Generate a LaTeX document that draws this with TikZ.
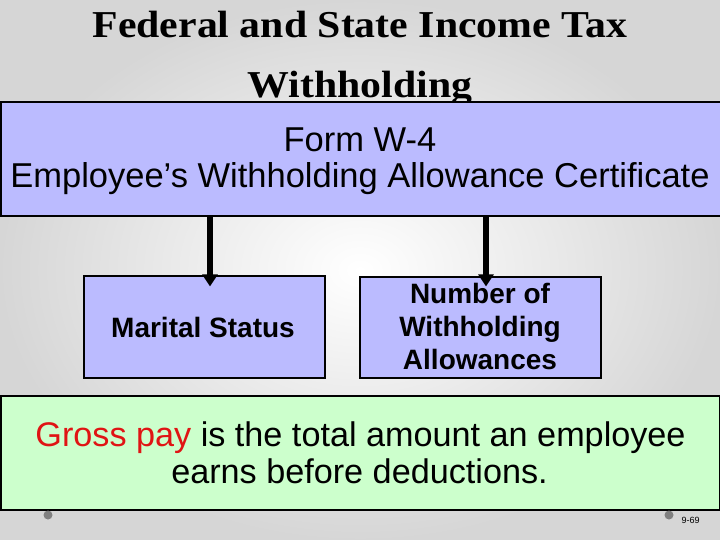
\documentclass[tikz,border=0pt]{standalone}
\usepackage{fontspec}
\setmainfont{Liberation Sans}
\newfontfamily\titlefont[FakeStretch=1.1]{Liberation Serif}
\usetikzlibrary{arrows.meta}
\definecolor{boxblue}{RGB}{187,187,255}
\definecolor{boxgreen}{RGB}{204,255,204}
\definecolor{payred}{RGB}{224,20,20}
\definecolor{dotgray}{RGB}{128,128,128}
\begin{document}
\begin{tikzpicture}[x=1pt,y=-1pt,
  bluebox/.style={draw=black,line width=1.2pt,fill=boxblue,inner sep=0pt},
  greenbox/.style={draw=black,line width=1.2pt,fill=boxgreen,inner sep=0pt},
  txt/.style={inner sep=0pt,anchor=base},
  bigtxt/.style={txt,font=\fontsize{34.5}{40}\selectfont},
  smalltxt/.style={txt,font=\bfseries\fontsize{28}{33}\selectfont},
  titletxt/.style={txt,font=\titlefont\bfseries\fontsize{38}{44}\selectfont},
  arr/.style={line width=6pt,-{Triangle[width=15pt,length=12pt]}},
  dotmark/.style={circle,fill=dotgray,inner sep=0pt,minimum size=9pt}]
\shade[inner color=white,outer color=black!16] (0,0) rectangle (720,540);
\useasboundingbox (0,0) rectangle (720,540);
% title
\node[titletxt] (t1) at (360,38) {Federal and State Income Tax};
\node[titletxt] (t2) at (360,98) {Withholding};
% blue header box
\node[bluebox,minimum width=719.6pt,minimum height=114pt] (form) at (360.8,159) {};
\node[bigtxt] (f1) at (360,152) {Form W-4};
\node[bigtxt] (f2) at (360,188) {Employee’s Withholding Allowance Certificate};
% two boxes
\node[bluebox,minimum width=241pt,minimum height=102pt] (ms) at (204.5,327) {};
\node[smalltxt] (mst) at (203,337) {Marital Status};
\node[bluebox,minimum width=241pt,minimum height=101pt] (nw) at (480.5,327.5) {};
\node[smalltxt] (nw1) at (480,303) {Number of};
\node[smalltxt] (nw2) at (480,336) {Withholding};
\node[smalltxt] (nw3) at (480,369.5) {Allowances};
% arrows
\draw[arr] ([xshift=5.5pt]form.south -| ms.north) -- ([xshift=5.5pt,yshift=-11pt]ms.north);
\draw[arr] ([xshift=5.5pt]form.south -| nw.north) -- ([xshift=5.5pt,yshift=-10pt]nw.north);
% green box
\node[greenbox,minimum width=719pt,minimum height=114pt] (gp) at (360.5,453) {};
\node[txt,font=\fontsize{34.2}{40}\selectfont] (g1) at (360.5,446) {\textcolor{payred}{Gross pay} is the total amount an employee};
\node[txt,font=\fontsize{34.2}{40}\selectfont] (g2) at (359.5,483) {earns before deductions.};
% footer
\node[dotmark] (d1) at (48,515) {};
\node[dotmark] (d2) at (669,515) {};
\node[txt,font=\fontsize{9}{10}\selectfont] (pg) at (690.5,523.5) {9-69};
\end{tikzpicture}
\end{document}
